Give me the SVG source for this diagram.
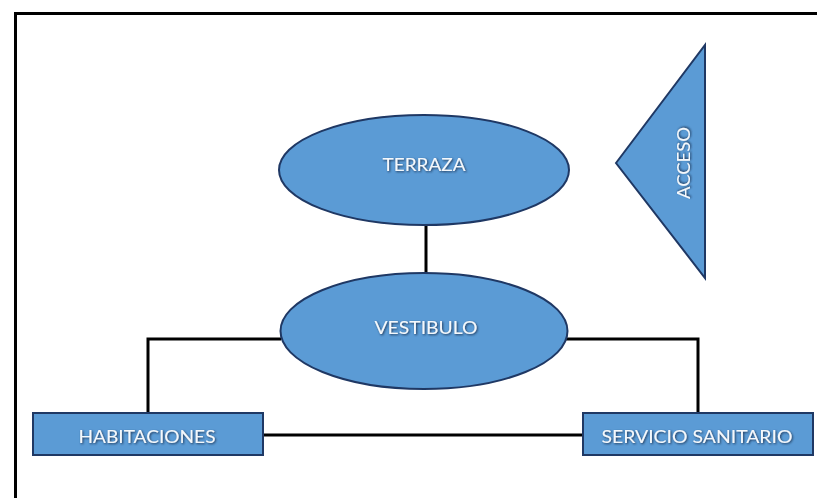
<svg xmlns="http://www.w3.org/2000/svg" width="817" height="498" viewBox="0 0 817 498">
<defs>
<filter id="sh" x="-10%" y="-30%" width="120%" height="160%">
<feDropShadow dx="1" dy="1" stdDeviation="0.8" flood-color="#1d3557" flood-opacity="1"/>
</filter>
</defs>
<style>
.shape{fill:#5B9BD5;stroke:#1F3864;stroke-width:2}
.conn{fill:none;stroke:#000;stroke-width:3}
.lbl{font-family:Lato,"Liberation Sans",sans-serif;font-size:18px;fill:#f4f8fc;text-anchor:middle;dominant-baseline:central;filter:url(#sh)}
</style>
<rect width="817" height="498" fill="#fff"/>
<path d="M15.5 498 V13.5 H817" fill="none" stroke="#000" stroke-width="3"/>
<g id="connectors">
<path class="conn" d="M426 226 V273"/>
<path class="conn" d="M281 339 H148 V413"/>
<path class="conn" d="M566 339 H698 V413"/>
<path class="conn" d="M263 435 H583"/>
</g>
<g id="terraza">
<ellipse class="shape" cx="424" cy="170" rx="145" ry="55"/>
<text class="lbl" x="424" y="164" textLength="83" lengthAdjust="spacingAndGlyphs">TERRAZA</text>
</g>
<g id="vestibulo">
<ellipse class="shape" cx="424" cy="331" rx="143.5" ry="58"/>
<text class="lbl" x="426" y="327" textLength="103" lengthAdjust="spacingAndGlyphs">VESTIBULO</text>
</g>
<g id="acceso">
<polygon class="shape" points="616,163 705,45 705,278"/>
<text class="lbl" transform="translate(683,163) rotate(-90)" x="0" y="0" textLength="72" lengthAdjust="spacingAndGlyphs">ACCESO</text>
</g>
<g id="habitaciones">
<rect class="shape" x="33" y="413" width="230" height="42"/>
<text class="lbl" x="147" y="436" textLength="137" lengthAdjust="spacingAndGlyphs">HABITACIONES</text>
</g>
<g id="servicio">
<rect class="shape" x="583" y="413" width="230" height="42"/>
<text class="lbl" x="697" y="436" textLength="191" lengthAdjust="spacingAndGlyphs">SERVICIO SANITARIO</text>
</g>
</svg>
